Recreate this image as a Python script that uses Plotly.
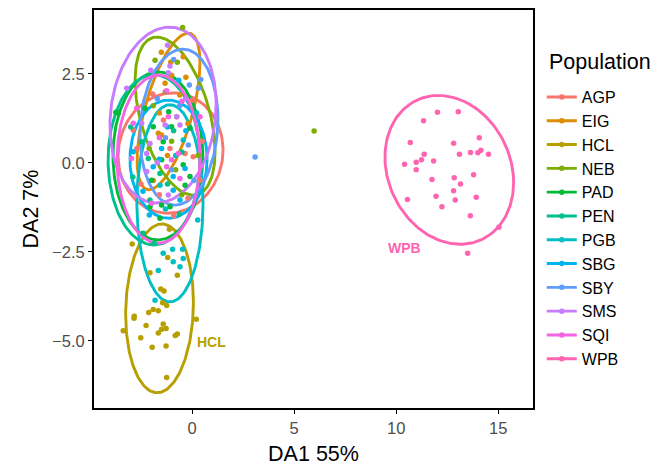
import numpy as np
import plotly.graph_objects as go

populations = ["AGP", "EIG", "HCL", "NEB", "PAD", "PEN", "PGB", "SBG", "SBY", "SMS", "SQI", "WPB"]
colors = ["#F8766D", "#DE8C00", "#B79F00", "#7CAE00", "#00BA38", "#00C08B",
          "#00BFC4", "#00B4F0", "#619CFF", "#C77CFF", "#F564E3", "#FF64B0"]

AGP_x = [-1.93, 0.03, -2.88, -1.08, -0.34, 0.06, 0.39, -2.5, -0.2, -1.6, -2.7, 0.5, -1.4, -0.9]
AGP_y = [1.93, 1.76, 0.92, 0.40, 0.26, 0.17, -0.49, -0.6, -1.0, -0.9, 0.4, 0.6, 1.2, -1.5]
EIG_x = [-1.04, -0.43, -1.00, -1.32, -1.60, -1.65, -1.49, -0.75, -0.3, -0.6, -1.2, -1.9, -0.2, -1.5]
EIG_y = [2.82, 2.98, 2.46, 2.23, 1.40, 0.83, 0.78, 1.29, 2.4, 1.9, 0.2, -0.5, 1.1, 3.1]
HCL_x = [-2.93, -1.11, -1.19, -2.06, -0.72, -1.53, -1.37, -1.44, -1.24, -1.90, -1.65, -2.12, -2.83, -2.84,
         0.21, -2.25, -1.41, -1.49, -1.27, -3.37, -1.65, -0.72, -0.82, -2.51, -1.95, -1.27, -1.24]
HCL_y = [-2.28, -1.87, -2.66, -3.09, -3.16, -3.55, -3.60, -3.93, -4.01, -4.12, -4.16, -4.21, -4.31, -4.37,
         -4.40, -4.57, -4.53, -4.68, -4.66, -4.72, -4.78, -4.81, -4.85, -4.92, -5.18, -5.15, -6.03]
NEB_x = [-0.46, -1.81, -0.72, -1.9, -1.0, -0.5, 0.3, -2.1, -1.3, -0.8, 5.98]
NEB_y = [3.80, 2.88, 2.82, 1.6, 0.6, -0.9, 0.2, 0.4, 2.0, -0.2, 0.89]
PAD_x = [-3.73, -2.30, -1.14, -3.61, -1.90, -1.00, -0.10, -1.41, -1.49, -0.43, -1.98, -0.10, -0.34, -1.08, -2.06, -1.49, -1.57]
PAD_y = [1.42, 1.53, 1.43, 1.39, 1.01, 1.01, 0.97, 0.59, 0.08, -0.06, -0.49, -0.39, -0.63, -1.24, -1.24, -1.19, -1.56]
PEN_x = [-2.14, -1.57, -2.06, -2.47, -0.62, -2.39, -1.85, -2.9, -0.9, -3.0, -1.2, -0.5]
PEN_y = [0.12, -0.30, -1.05, 0.59, -1.44, -1.98, -2.26, -0.4, 0.9, 1.0, -0.6, 0.3]
PGB_x = [0.23, -0.43, -1.57, 0.28, -0.95, -0.46, -0.92, -0.43, -0.59, -1.65, -1.81, -1.41, -1.3, -0.8]
PGB_y = [1.40, 0.64, -0.63, -1.61, -2.43, -2.43, -2.78, -2.69, -2.92, -3.03, -3.86, -2.54, -1.3, 0.2]
SBG_x = [-0.65, -1.49, -2.88, -1.90, -0.34, -0.92, -0.92, -0.59, -2.09, -1.2, -0.3, -2.4, -1.6]
SBG_y = [2.32, 0.40, 0.31, -0.11, -0.16, -0.39, -0.77, -1.05, -1.47, 1.0, 0.9, -0.8, 0.1]
SBY_x = [-0.13, 0.43, 0.31, -0.18, 3.09, -0.6, -1.0, -1.7, 0.1, -1.3, -0.9]
SBY_y = [2.18, 2.34, 2.09, 0.50, 0.16, 1.6, -0.2, 1.8, -0.5, 0.7, 2.9]
SMS_x = [-1.08, -1.16, -2.02, -3.20, -0.75, -2.47, -0.59, -1.32, -2.06, -2.22, -2.22, -1.16, -1.2, -0.3, -1.7]
SMS_y = [2.72, 2.53, 2.60, 2.09, 1.29, 1.11, 1.06, 1.06, 0.54, 0.26, -0.25, -0.91, 3.3, 1.8, 0.0]
SQI_x = [-1.24, -0.50, -2.71, -2.88, -1.16, 0.39, -0.67, -2.96, -1.00, -1.24, -0.59, -1.98, -1.6]
SQI_y = [2.02, 1.73, 1.53, 1.11, 1.29, 1.29, 0.26, 0.12, 0.08, -0.11, -0.44, -1.14, 0.7]
WPB_x = [12.02, 13.04, 11.34, 10.69, 12.81, 14.07, 11.37, 10.41, 10.98, 11.24, 11.83, 10.98, 13.10, 13.64, 14.00,
         14.15, 14.52, 13.79, 11.75, 12.84, 13.15, 12.81, 11.95, 12.89, 13.92, 10.55, 12.24, 13.63, 15.03, 13.50]
WPB_y = [1.42, 1.43, 1.18, 0.57, 0.55, 0.70, 0.24, -0.04, 0.01, 0.08, 0.05, -0.20, 0.24, 0.29, 0.28,
         0.35, 0.24, -0.34, -0.47, -0.42, -0.60, -0.79, -0.94, -1.05, -0.97, -1.03, -1.24, -1.49, -1.81, -2.54]

points_x = [AGP_x, EIG_x, HCL_x, NEB_x, PAD_x, PEN_x, PGB_x, SBG_x, SBY_x, SMS_x, SQI_x, WPB_x]
points_y = [AGP_y, EIG_y, HCL_y, NEB_y, PAD_y, PEN_y, PGB_y, SBG_y, SBY_y, SMS_y, SQI_y, WPB_y]

# ellipse parameters: centre, half extents, correlation
ell_cx = [-1.05, -1.15, -1.59, -0.83, -1.67, -1.86, -1.08, -1.15, -0.64, -1.42, -1.64, 12.6]
ell_cy = [0.27, 1.44, -4.09, 1.31, 0.19, 0.08, -1.14, 0.10, 1.00, 1.34, 0.10, -0.2]
ell_hx = [2.57, 1.54, 1.66, 1.96, 2.20, 2.25, 1.62, 1.89, 1.91, 2.60, 2.03, 3.15]
ell_hy = [1.69, 2.20, 2.37, 2.22, 2.36, 2.39, 2.77, 1.66, 2.19, 2.47, 2.36, 2.09]
ell_r = [0.05, 0.62, 0.07, -0.45, 0.0, 0.0, 0.0, 0.0, 0.1, 0.12, 0.0, -0.17]

label_names = ["HCL", "WPB"]
label_x = [0.97, 10.43]
label_y = [-5.03, -2.40]

FONT = "Liberation Sans, Arial, sans-serif"
fig = go.Figure()
t = np.linspace(0, 2 * np.pi, 181)
for i, pop in enumerate(populations):
    c = colors[i]
    r = ell_r[i]
    ex = ell_cx[i] + ell_hx[i] * np.cos(t)
    ey = ell_cy[i] + ell_hy[i] * (r * np.cos(t) - np.sqrt(1 - r * r) * np.sin(t))
    fig.add_trace(go.Scatter(x=ex, y=ey, mode="lines", line=dict(color=c, width=2.9),
                             legendgroup=pop, showlegend=False, hoverinfo="skip"))
for i, pop in enumerate(populations):
    c = colors[i]
    fig.add_trace(go.Scatter(x=points_x[i], y=points_y[i], mode="markers",
                             marker=dict(color=c, size=5.5), legendgroup=pop, showlegend=False, name=pop))
for i, pop in enumerate(populations):
    fig.add_trace(go.Scatter(x=[None], y=[None], mode="lines+markers", name=pop, legendgroup=pop,
                             line=dict(color=colors[i], width=2.9), marker=dict(color=colors[i], size=5.5)))

for name, lx, ly in zip(label_names, label_x, label_y):
    fig.add_annotation(x=lx, y=ly, text="<b>%s</b>" % name, showarrow=False,
                       font=dict(family=FONT, size=14, color=colors[populations.index(name)]))

# legend title as annotation
fig.add_annotation(xref="paper", yref="paper", x=1.032, y=0.869, xanchor="left", yanchor="middle",
                   text="Population", showarrow=False,
                   font=dict(family=FONT, size=21.5, color="black"))

axis_common = dict(showline=True, linecolor="black", linewidth=2, mirror=True, ticks="outside",
                   ticklen=4, tickwidth=1, tickcolor="black", showgrid=False, zeroline=False,
                   tickfont=dict(family=FONT, size=16.5, color="#4d4d4d"))
fig.update_xaxes(range=[-4.8, 16.7], tickvals=[0, 5, 10, 15],
                 title=dict(text="DA1 55%", font=dict(family=FONT, size=21.5, color="black"), standoff=10),
                 **axis_common)
fig.update_yaxes(range=[-6.89, 4.29], tickvals=[-5, -2.5, 0, 2.5], tickformat=".1f",
                 title=dict(text="DA2 7%", font=dict(family=FONT, size=21.5, color="black"), standoff=8),
                 **axis_common)
fig.update_layout(
    width=651, height=467, plot_bgcolor="white", paper_bgcolor="white",
    margin=dict(l=94, r=118, t=10, b=59, autoexpand=False),
    showlegend=True,
    legend=dict(x=1.02, y=0.824, xanchor="left", yanchor="top",
                font=dict(family=FONT, size=16, color="black"), itemwidth=30, tracegroupgap=0),
)
fig.write_html("out.html")
